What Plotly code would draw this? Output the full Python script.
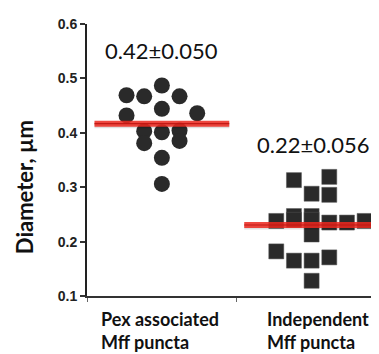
import plotly.graph_objects as go
import numpy as np

# ---- data ----
categories = ["Pex associated<br>Mff puncta", "Independent<br>Mff puncta"]
pex_values = [0.487, 0.469, 0.467, 0.467, 0.444, 0.432, 0.436, 0.403, 0.401,
              0.404, 0.381, 0.385, 0.354, 0.306]
ind_values = [0.313, 0.319, 0.288, 0.286, 0.238, 0.247, 0.240, 0.247, 0.240,
              0.235, 0.235, 0.238, 0.213, 0.182, 0.165, 0.165, 0.171, 0.128]
mean_labels = ["0.42±0.050", "0.22±0.056"]
y_ticks = [0.1, 0.2, 0.3, 0.4, 0.5, 0.6]

# swarm column layout (index of column within each group)
pex_cols = [0, -2, -1, 1, 0, -2, 2, -1, 0, 1, -1, 1, 0, 0]
ind_cols = [-1, 1, 0, 1, -2, -1, -1, 0, 0, 1, 2, 3, 0, -2, -1, 0, 1, 0]

COL_W = 0.118
centers = [0.5, 1.5]
INK = "#2a2a2a"

fig = go.Figure()

fig.add_trace(go.Scatter(
    x=[centers[0] + c * COL_W for c in pex_cols], y=pex_values,
    mode="markers", marker=dict(symbol="circle", size=16, color=INK),
    showlegend=False, hoverinfo="y"))
fig.add_trace(go.Scatter(
    x=[centers[1] + c * COL_W for c in ind_cols], y=ind_values,
    mode="markers", marker=dict(symbol="square", size=15, color=INK,
                                line=dict(color="#555", width=0.5)),
    showlegend=False, hoverinfo="y"))

# mean lines
for cx, vals in zip(centers, [pex_values, ind_values]):
    m = float(np.mean(vals))
    fig.add_trace(go.Scatter(x=[cx - 0.45, cx + 0.45], y=[m - 0.003, m - 0.003],
                             mode="lines", line=dict(color="rgba(0,0,0,0.12)", width=6),
                             showlegend=False, hoverinfo="skip"))
    fig.add_trace(go.Scatter(x=[cx - 0.45, cx + 0.45], y=[m, m], mode="lines",
                             line=dict(color="rgba(236,40,30,0.85)", width=6),
                             showlegend=False, hoverinfo="skip"))
    fig.add_trace(go.Scatter(x=[cx - 0.45, cx + 0.45], y=[m, m], mode="lines",
                             line=dict(color="rgba(190,20,15,0.9)", width=1.2),
                             showlegend=False, hoverinfo="skip"))

TXT = "Lato"
# mean labels
fig.add_annotation(x=centers[0], y=0.552, xref="x", yref="y", text=mean_labels[0],
                   showarrow=False, font=dict(family=TXT, size=22, color="#111"))
fig.add_annotation(x=centers[1] + 0.01, y=0.379, xref="x", yref="y", text=mean_labels[1],
                   showarrow=False, font=dict(family=TXT, size=22, color="#111"))

# category labels (left aligned, two lines)
for xl, lab in zip([0.08, 1.19], categories):
    fig.add_annotation(x=xl, y=-0.035, xref="x", yref="paper", text=lab,
                       showarrow=False, xanchor="left", yanchor="top", align="left",
                       font=dict(family=TXT, size=18, color="#111", weight="bold"))

# y title
fig.add_annotation(x=-0.216, y=0.40, xref="paper", yref="paper", text="Diameter, µm",
                   textangle=-90, showarrow=False, xanchor="center", yanchor="middle",
                   font=dict(family=TXT, size=22, color="#111", weight="bold"))

# page body has an 8px margin: size the figure so the plot area lands where the reference has it
fig.update_layout(
    width=371, height=346,
    margin=dict(l=79, r=0, t=16, b=58),
    plot_bgcolor="white", paper_bgcolor="white",
    xaxis=dict(range=[0, 1.95], showgrid=False, zeroline=False,
               showline=True, linecolor="#333", linewidth=2,
               tickvals=[0, 1], ticktext=["", ""], ticks="outside", ticklen=4,
               tickcolor="#666", tickwidth=1, fixedrange=True),
    yaxis=dict(range=[0.1, 0.6], showgrid=False, zeroline=False,
               showline=True, linecolor="#222", linewidth=2,
               tickvals=y_ticks, ticktext=[f"{v:.1f}" for v in y_ticks],
               ticks="outside", ticklen=5, tickcolor="#333", tickwidth=1.5,
               tickfont=dict(family="Liberation Sans", size=14, color="#222", weight="bold"),
               fixedrange=True),
)

fig.write_html("out.html")
